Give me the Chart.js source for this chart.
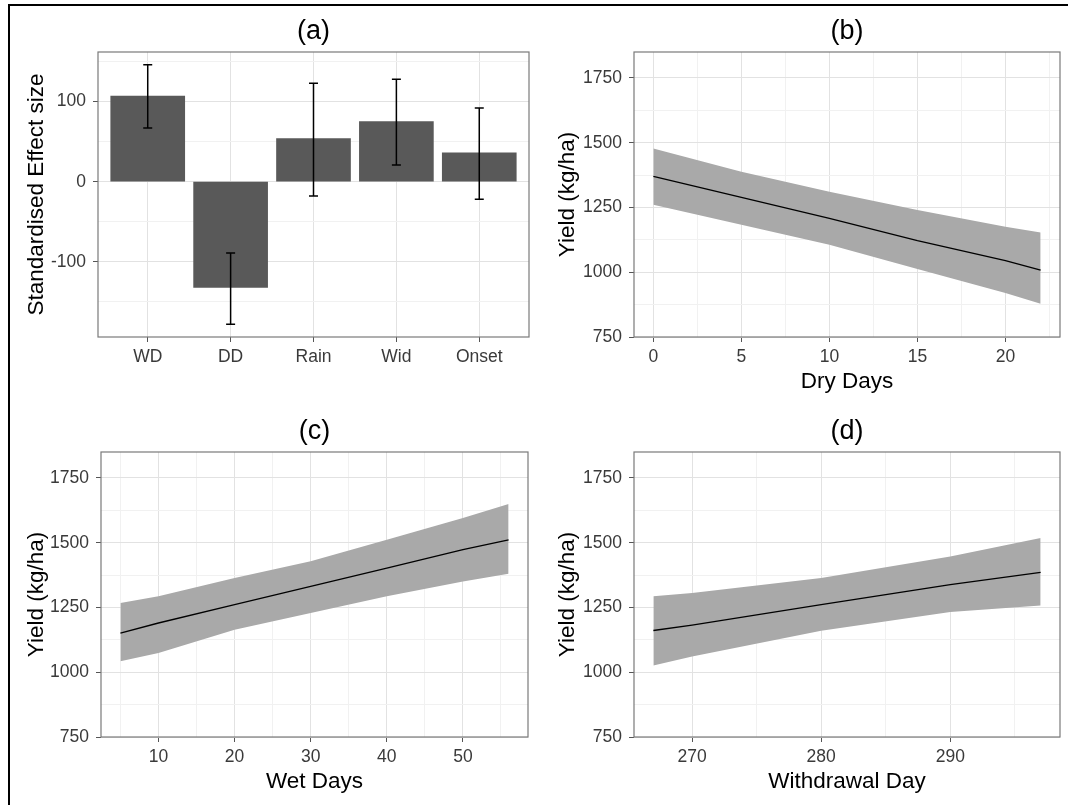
<!DOCTYPE html>
<html>
<head>
<meta charset="utf-8">
<script src="https://cdn.jsdelivr.net/npm/chart.js@4.4.1/dist/chart.umd.min.js"></script>
<style>
  html, body { margin: 0; padding: 0; background: #fff; }
  #page { position: relative; width: 1068px; height: 805px; overflow: hidden; background: #fff; }
  #frame { position: absolute; left: 8px; top: 4px; right: -5px; bottom: -5px; border-top: 2px solid #000; border-left: 2px solid #000; }
  canvas { position: absolute; }
</style>
</head>
<body>
<div id="page">
  <div id="frame"></div>
  <canvas id="chartA" width="524" height="393" style="left:11px;top:7px"></canvas>
  <canvas id="chartB" width="528" height="393" style="left:540px;top:7px"></canvas>
  <canvas id="chartC" width="524" height="398" style="left:11px;top:407px"></canvas>
  <canvas id="chartD" width="528" height="398" style="left:540px;top:407px"></canvas>
</div>
<script>
// (a) standardised effect sizes with error bars
const effectLabels = ['WD', 'DD', 'Rain', 'Wid', 'Onset'];
const effectValues = [107, -132, 54, 75, 36];
const effectLower = [67, -178, -18, 21, -22];
const effectUpper = [146, -89, 123, 128, 92];
const effectTicks = [-100, 0, 100];

// (b) dry days
const dryDays = [0, 5, 10, 15, 20, 22];
const dryFit = [1370, 1289, 1208, 1122, 1045, 1008];
const dryUpper = [1478, 1388, 1311, 1240, 1176, 1153];
const dryLower = [1260, 1183, 1106, 1012, 920, 878];
const dryTicks = [0, 5, 10, 15, 20];

// (c) wet days
const wetDays = [5, 10, 20, 30, 40, 50, 56];
const wetFit = [1151, 1190, 1261, 1331, 1402, 1473, 1511];
const wetUpper = [1267, 1293, 1364, 1428, 1511, 1595, 1649];
const wetLower = [1042, 1074, 1164, 1229, 1293, 1350, 1380];
const wetTicks = [10, 20, 30, 40, 50];

// (d) withdrawal day
const withdrawalDays = [267, 270, 280, 290, 297];
const withdrawalFit = [1161, 1182, 1261, 1338, 1385];
const withdrawalUpper = [1293, 1306, 1364, 1447, 1518];
const withdrawalLower = [1026, 1061, 1160, 1232, 1258];
const withdrawalTicks = [270, 280, 290];

const yieldTicks = [750, 1000, 1250, 1500, 1750];

Chart.defaults.font.family = "'Liberation Sans', Arial, sans-serif";
Chart.defaults.animation = false;

const TICK_FONT = { size: 17.5 };
const TITLE_FONT = { size: 22.5 };

// axis with major + minor (half-step) grid lines, like ggplot theme_bw
function gridAxis(majors, min, max, o) {
  const step = majors.length > 1 ? majors[1] - majors[0] : 1;
  const isMajor = v => majors.some(m => Math.abs(m - v) < 1e-6);
  const horizontal = o.axis === 'x';
  return {
    type: 'linear',
    min: min,
    max: max,
    offset: false,
    afterBuildTicks(scale) {
      const vals = [];
      if (o.minor === false) {
        majors.forEach(v => vals.push(v));
      } else {
        let v = majors[0];
        while (v - step / 2 >= min) v -= step / 2;
        for (; v <= max + 1e-9; v += step / 2) vals.push(v);
      }
      scale.ticks = vals.map(v => ({ value: v }));
    },
    afterFit(scale) {
      if (horizontal) scale.height = o.size; else scale.width = o.size;
    },
    border: { display: false },
    grid: {
      offset: false,
      drawTicks: true,
      tickLength: 5,
      lineWidth: 1,
      color: c => (c.tick && isMajor(c.tick.value)) ? '#e2e2e2' : '#f1f1f1',
      tickColor: c => (c.tick && isMajor(c.tick.value)) ? '#555' : 'rgba(0,0,0,0)'
    },
    ticks: {
      autoSkip: false,
      maxRotation: 0,
      minRotation: 0,
      padding: horizontal ? 4.5 : 7,
      color: '#3a3a3a',
      font: TICK_FONT,
      callback: v => isMajor(v) ? (o.label ? o.label(v) : String(v)) : ''
    },
    title: o.title ? {
      display: true,
      text: o.title,
      color: '#000',
      font: TITLE_FONT,
      padding: horizontal ? { top: 0, bottom: o.titlePad } : { top: o.titlePad, bottom: 0 }
    } : { display: false }
  };
}

const panelBorder = {
  id: 'panelBorder',
  afterDraw(chart) {
    const { ctx, chartArea: a } = chart;
    ctx.save();
    ctx.strokeStyle = '#7a7a7a';
    ctx.lineWidth = 1.2;
    ctx.strokeRect(a.left, a.top, a.right - a.left, a.bottom - a.top);
    ctx.restore();
  }
};

const errorBars = {
  id: 'errorBars',
  afterDatasetsDraw(chart) {
    const { ctx, scales: { x, y } } = chart;
    ctx.save();
    ctx.strokeStyle = '#000';
    ctx.lineWidth = 1.5;
    effectLabels.forEach((_, i) => {
      const px = x.getPixelForValue(i);
      const top = y.getPixelForValue(effectUpper[i]);
      const bot = y.getPixelForValue(effectLower[i]);
      ctx.beginPath();
      ctx.moveTo(px, top); ctx.lineTo(px, bot);
      ctx.moveTo(px - 4.5, top); ctx.lineTo(px + 4.5, top);
      ctx.moveTo(px - 4.5, bot); ctx.lineTo(px + 4.5, bot);
      ctx.stroke();
    });
    ctx.restore();
  }
};

function panelTitle(text) {
  return {
    display: true,
    text: text,
    color: '#000',
    fullSize: false,
    font: { size: 27, weight: 'normal' },
    padding: { top: 8.8, bottom: 3.8 }
  };
}

const baseOptions = (title, pad) => ({
  responsive: false,
  events: [],
  layout: { padding: pad },
  plugins: { legend: { display: false }, tooltip: { enabled: false }, title: panelTitle(title) }
});

// (a)
new Chart(document.getElementById('chartA'), {
  type: 'bar',
  data: {
    datasets: [{
      data: effectValues.map((v, i) => ({ x: i, y: v })),
      backgroundColor: '#595959',
      borderWidth: 0,
      barThickness: 74
    }]
  },
  options: Object.assign(baseOptions('(a)', { left: 0, right: 6, top: 0, bottom: 0 }), {
    scales: {
      x: gridAxis([0, 1, 2, 3, 4], -0.6, 4.6, { axis: 'x', size: 63, minor: false, label: v => effectLabels[v] }),
      y: gridAxis(effectTicks, -194, 162, { axis: 'y', size: 87, title: 'Standardised Effect size', titlePad: 12.2 })
    }
  }),
  plugins: [errorBars, panelBorder]
});

function ribbonChart(id, xs, fit, upper, lower, xTicks, xMin, xMax, xTitle, o) {
  const pts = arr => arr.map((v, i) => ({ x: xs[i], y: v }));
  new Chart(document.getElementById(id), {
    type: 'line',
    data: {
      datasets: [
        // fitted line first so it is drawn on top of the band
        { data: pts(fit), borderWidth: 1.3, borderColor: '#000', pointRadius: 0, fill: false, tension: 0 },
        { data: pts(lower), borderWidth: 0, borderColor: 'rgba(0,0,0,0)', pointRadius: 0, fill: false },
        { data: pts(upper), borderWidth: 0, borderColor: 'rgba(0,0,0,0)', pointRadius: 0, fill: '-1', backgroundColor: '#a9a9a9' }
      ]
    },
    options: Object.assign(baseOptions(o.title, { left: 0, right: o.right, top: 0, bottom: 0 }), {
      scales: {
        x: gridAxis(xTicks, xMin, xMax, { axis: 'x', size: o.xSize, title: xTitle, titlePad: o.xPad }),
        y: gridAxis(yieldTicks, 750, 1850, { axis: 'y', size: o.ySize, title: 'Yield (kg/ha)', titlePad: o.yPad })
      }
    }),
    plugins: [panelBorder]
  });
}

ribbonChart('chartB', dryDays, dryFit, dryUpper, dryLower, dryTicks, -1.1, 23.1, 'Dry Days',
  { title: '(b)', right: 8, xSize: 63, xPad: 4.5, ySize: 94, yPad: 14.3 });
ribbonChart('chartC', wetDays, wetFit, wetUpper, wetLower, wetTicks, 2.45, 58.55, 'Wet Days',
  { title: '(c)', right: 7, xSize: 68, xPad: 9.5, ySize: 90, yPad: 12.2 });
ribbonChart('chartD', withdrawalDays, withdrawalFit, withdrawalUpper, withdrawalLower, withdrawalTicks, 265.5, 298.5, 'Withdrawal Day',
  { title: '(d)', right: 8, xSize: 68, xPad: 9.5, ySize: 94, yPad: 14.3 });
</script>
</body>
</html>
